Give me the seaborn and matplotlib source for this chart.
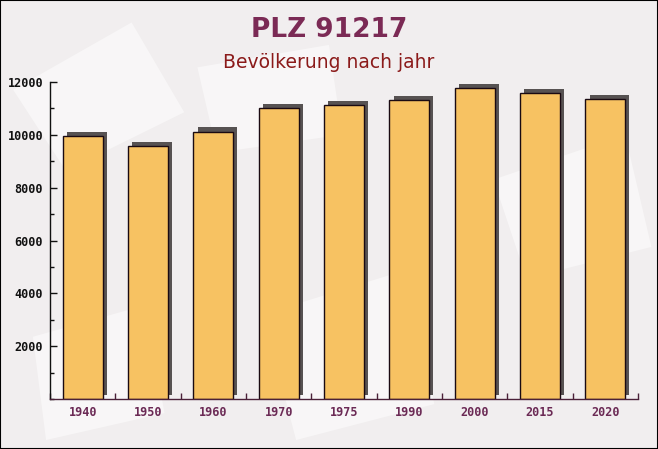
import numpy as np
import pandas as pd
import matplotlib
matplotlib.use("Agg")
import matplotlib.pyplot as plt
import matplotlib.patheffects as pe
from matplotlib.patches import Rectangle, Polygon
from matplotlib.ticker import MultipleLocator
import seaborn as sns

years = ["1940", "1950", "1960", "1970", "1975", "1990", "2000", "2015", "2020"]
population = [9940, 9560, 10125, 11005, 11130, 11320, 11775, 11585, 11360]
title_text = "PLZ 91217"
subtitle_text = "Bevölkerung nach jahr"

df = pd.DataFrame({"jahr": years, "bev": population})

sns.set_theme(style="white")
plt.rcParams["font.family"] = ["DejaVu Sans"]

fig = plt.figure(figsize=(6.58, 4.49), dpi=100)
fig.patch.set_facecolor("#f1eeef")

# faint background shapes (behind the axes)
bg = fig.add_axes([0, 0, 1, 1], zorder=0)
bg.set_axis_off()
bg.set_xlim(0, 1)
bg.set_ylim(0, 1)
bg_shapes = [
    [(0.02, 0.80), (0.20, 0.95), (0.28, 0.75), (0.10, 0.62)],
    [(0.40, 0.30), (0.62, 0.40), (0.66, 0.10), (0.45, 0.02)],
    [(0.75, 0.60), (0.95, 0.70), (0.99, 0.45), (0.80, 0.38)],
    [(0.30, 0.85), (0.50, 0.90), (0.52, 0.70), (0.33, 0.66)],
    [(0.05, 0.25), (0.22, 0.32), (0.25, 0.08), (0.07, 0.02)],
]
for pts in bg_shapes:
    bg.add_patch(Polygon(pts, closed=True, facecolor="white", alpha=0.5, edgecolor="none"))

ax = fig.add_axes([50/658, 50/449, 588/658, 317/449], zorder=2)
ax.set_facecolor("none")

sns.barplot(data=df, x="jahr", y="bev", ax=ax, color="#f7c262",
            width=0.61, edgecolor="#1a0a12", linewidth=1.0, saturation=1)

for p in ax.patches:
    p.set_path_effects([
        pe.SimplePatchShadow(offset=(3.0, 3.0), shadow_rgbFace="#575252", alpha=1.0),
        pe.Normal(),
    ])

ax.set_xlim(-0.5, len(years) - 0.5)
ax.set_ylim(0, 12000)
ax.yaxis.set_minor_locator(MultipleLocator(1000))
ax.set_yticks([2000, 4000, 6000, 8000, 10000, 12000])
ax.set_xticks(np.arange(-0.5, len(years), 1.0), minor=True)

ax.set_xlabel("")
ax.set_ylabel("")

for s in ["top", "right"]:
    ax.spines[s].set_visible(False)
ax.spines["left"].set_color("#111111")
ax.spines["bottom"].set_color("#4a2038")
ax.spines["left"].set_linewidth(1.0)
ax.spines["bottom"].set_linewidth(1.0)

ax.tick_params(axis="y", which="major", direction="in", length=5, width=1,
               color="#111111", labelsize=8.5, pad=5, left=True)
ax.tick_params(axis="y", which="minor", direction="in", length=3, width=1, color="#111111", left=True)
ax.tick_params(axis="x", which="major", length=0, labelsize=8.5, pad=5, labelcolor="#6b2a55")
ax.tick_params(axis="x", which="minor", direction="in", length=4, width=1, color="#4a2038", bottom=True)

for lbl in ax.get_yticklabels():
    lbl.set_fontfamily("DejaVu Sans Mono")
    lbl.set_fontweight("bold")
    lbl.set_color("#111111")
for lbl in ax.get_xticklabels():
    lbl.set_fontfamily("DejaVu Sans Mono")
    lbl.set_fontweight("bold")
    lbl.set_color("#6b2a55")

fig.text(0.5, 1 - 30/449, title_text, ha="center", va="center",
         fontsize=19, fontweight="bold", color="#7b2a55", zorder=3)
fig.text(0.5, 1 - 62/449, subtitle_text, ha="center", va="center",
         fontsize=13.5, color="#8b1a1a", zorder=3)

fig.patches.append(Rectangle((0, 0), 1, 1, transform=fig.transFigure, fill=False,
                             edgecolor="black", linewidth=1.5, zorder=10))

fig.savefig("out.png", dpi=100, facecolor=fig.get_facecolor())
